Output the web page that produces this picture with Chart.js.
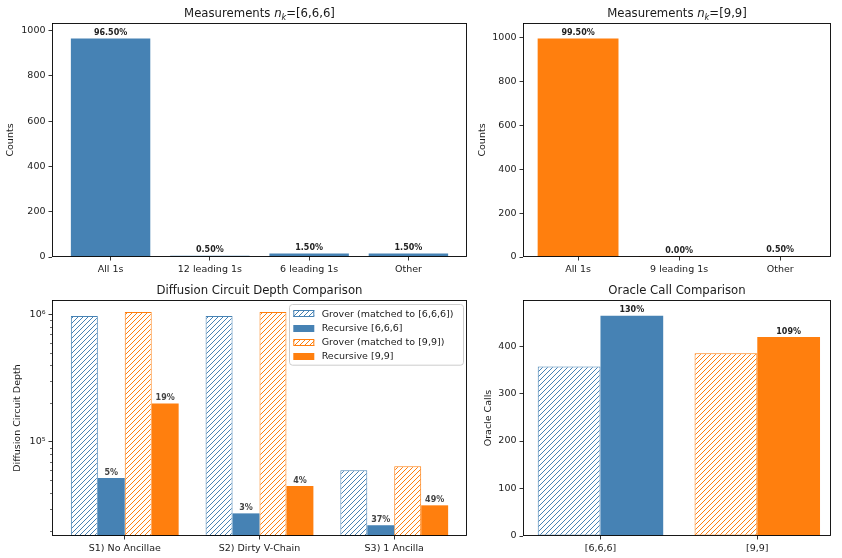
<!DOCTYPE html>
<html>
<head>
<meta charset="utf-8">
<script src="https://cdn.jsdelivr.net/npm/chart.js@4.4.0/dist/chart.umd.min.js"></script>
<style>
    body { margin: 0; background: #fff; width: 842px; height: 558px; position: relative; overflow: hidden; }
    .box { position: absolute; }
</style>
</head>
<body>
<div class="box" style="left:0;top:0;width:480px;height:280px"><canvas id="meas666"></canvas></div>
<div class="box" style="left:470px;top:0;width:372px;height:280px"><canvas id="meas99"></canvas></div>
<div class="box" style="left:0;top:280px;width:480px;height:278px"><canvas id="depth"></canvas></div>
<div class="box" style="left:470px;top:280px;width:372px;height:278px"><canvas id="oracle"></canvas></div>
<script>
// Data
const SHOTS = 1000;
const meas666Labels = ['All 1s', '12 leading 1s', '6 leading 1s', 'Other'];
const meas666Counts = [965, 5, 15, 15];
const meas99Labels = ['All 1s', '9 leading 1s', 'Other'];
const meas99Counts = [995, 0, 5];
const countTicks = [0, 200, 400, 600, 800, 1000];

const depthLabels = ['S1) No Ancillae', 'S2) Dirty V-Chain', 'S3) 1 Ancilla'];
const grover666Depth = [970000, 970000, 60000];
const recursive666Depth = [52000, 27500, 22200];
const grover99Depth = [1042000, 1042000, 64400];
const recursive99Depth = [200000, 45000, 31800];
const depthTicks = [100000, 1000000];
const depthTickLabels = ['10⁵', '10⁶'];
const depthMinorTicks = [20000, 30000, 40000, 50000, 60000, 70000, 80000, 90000,
    200000, 300000, 400000, 500000, 600000, 700000, 800000, 900000];

const oracleLabels = ['[6,6,6]', '[9,9]'];
const groverOracle = [357, 385];
const recursiveOracle = [464, 419];
const oracleTicks = [0, 100, 200, 300, 400];

const legendLabels = ['Grover (matched to [6,6,6])', 'Recursive [6,6,6]', 'Grover (matched to [9,9])', 'Recursive [9,9]'];

// Style
const BLUE = '#4682b4';
const ORANGE = '#ff7f0e';
const FONT = "'DejaVu Sans', sans-serif";
const INK = '#1a1a1a';

Chart.defaults.font.family = FONT;
Chart.defaults.font.size = 9.5;
Chart.defaults.color = INK;
Chart.defaults.animation = false;
Chart.defaults.plugins.legend.display = false;
Chart.defaults.plugins.tooltip.enabled = false;

function hatch(color) {
    const c = document.createElement('canvas');
    c.width = 5; c.height = 5;
    const g = c.getContext('2d');
    g.fillStyle = '#fff';
    g.fillRect(0, 0, 5, 5);
    g.strokeStyle = color;
    g.lineWidth = 1;
    g.beginPath();
    g.moveTo(0, 5); g.lineTo(5, 0);
    g.moveTo(-1, 1); g.lineTo(1, -1);
    g.moveTo(4, 6); g.lineTo(6, 4);
    g.stroke();
    return g.createPattern(c, 'repeat');
}

const tickGrid = { drawOnChartArea: false, drawTicks: true, offset: false, tickLength: 3.5, tickColor: '#000', tickWidth: 0.8 };

function xScale(labels, min, max, height) {
    return {
        type: 'linear', min, max, offset: false,
        afterBuildTicks: s => { s.ticks = labels.map((_, i) => ({ value: i })); },
        afterFit: s => { s.height = height; },
        ticks: { callback: v => labels[v], padding: 3, maxRotation: 0, autoSkip: false, color: INK, font: { size: 9.5 } },
        grid: tickGrid,
        border: { display: false }
    };
}

function yScale(title, titlePad, width, extra) {
    return Object.assign({
        afterFit: s => { s.width = width; },
        title: { display: true, text: title, padding: { top: titlePad, bottom: 0 }, color: INK, font: { size: 9.5 } },
        ticks: { padding: 3, color: INK, font: { size: 9.5 }, callback: v => String(v) },
        grid: tickGrid,
        border: { display: false }
    }, extra);
}

function drawTitle(chart, parts) {
    const ctx = chart.ctx;
    const a = chart.chartArea;
    const size = 11.7;
    const fontOf = p => `${p.italic ? 'italic ' : ''}${p.sub ? size * 0.7 : size}px ${FONT}`;
    let total = 0;
    parts.forEach(p => { ctx.font = fontOf(p); total += ctx.measureText(p.t).width; });
    let x = (a.left + a.right) / 2 - total / 2;
    const base = a.top - 6;
    ctx.save();
    ctx.fillStyle = INK;
    ctx.textBaseline = 'alphabetic';
    ctx.textAlign = 'left';
    parts.forEach(p => {
        ctx.font = fontOf(p);
        ctx.fillText(p.t, x, base + (p.sub ? 2.5 : 0));
        x += ctx.measureText(p.t).width;
    });
    ctx.restore();
}

function drawFrame(chart) {
    const ctx = chart.ctx;
    const a = chart.chartArea;
    ctx.save();
    ctx.strokeStyle = '#000';
    ctx.lineWidth = 0.9;
    const l = Math.round(a.left) + 0.5, t = Math.round(a.top) + 0.5;
    const r = Math.round(a.right) - 0.5, b = Math.round(a.bottom) - 0.5;
    ctx.strokeRect(l, t, r - l, b - t);
    ctx.restore();
}

function drawBarLabels(chart, dsIndex, texts, color) {
    const ctx = chart.ctx;
    const meta = chart.getDatasetMeta(dsIndex);
    ctx.save();
    ctx.font = `bold 8px ${FONT}`;
    ctx.fillStyle = color;
    ctx.textAlign = 'center';
    ctx.textBaseline = 'alphabetic';
    meta.data.forEach((bar, i) => {
        ctx.fillText(texts[i], bar.x, bar.y - 3.5);
    });
    ctx.restore();
}

function titlePlugin(parts, extra) {
    return {
        id: 'deco',
        afterDatasetsDraw(chart) {
            drawFrame(chart);
            drawTitle(chart, parts);
            if (extra) extra(chart);
        }
    };
}

const pct2 = counts => counts.map(v => (v / SHOTS * 100).toFixed(2) + '%');
const ratio = (num, den) => num.map((v, i) => Math.round(v / den[i] * 100) + '%');
const pts = vals => vals.map((v, i) => ({ x: i, y: v }));

// Measurements [6,6,6]
new Chart(document.getElementById('meas666'), {
    type: 'bar',
    data: {
        datasets: [{ data: pts(meas666Counts), backgroundColor: BLUE, categoryPercentage: 0.8, barPercentage: 1 }]
    },
    options: {
        responsive: true, maintainAspectRatio: false,
        layout: { padding: { top: 23, right: 13, left: 0, bottom: 0 } },
        scales: {
            x: xScale(meas666Labels, -0.59, 3.59, 23),
            y: yScale('Counts', 5.3, 52, {
                min: 0, max: 1033,
                afterBuildTicks: s => { s.ticks = countTicks.map(v => ({ value: v })); }
            })
        }
    },
    plugins: [titlePlugin(
        [{ t: 'Measurements ' }, { t: 'n', italic: true }, { t: 'k', italic: true, sub: true }, { t: '=[6,6,6]' }],
        chart => drawBarLabels(chart, 0, pct2(meas666Counts), '#222')
    )]
});

// Measurements [9,9]
new Chart(document.getElementById('meas99'), {
    type: 'bar',
    data: {
        datasets: [{ data: pts(meas99Counts), backgroundColor: ORANGE, categoryPercentage: 0.8, barPercentage: 1, minBarLength: 1 }]
    },
    options: {
        responsive: true, maintainAspectRatio: false,
        layout: { padding: { top: 23, right: 11, left: 0, bottom: 0 } },
        scales: {
            x: xScale(meas99Labels, -0.545, 2.503, 23),
            y: yScale('Counts', 7, 53, {
                min: 0, max: 1065,
                afterBuildTicks: s => { s.ticks = countTicks.map(v => ({ value: v })); }
            })
        }
    },
    plugins: [titlePlugin(
        [{ t: 'Measurements ' }, { t: 'n', italic: true }, { t: 'k', italic: true, sub: true }, { t: '=[9,9]' }],
        chart => drawBarLabels(chart, 0, pct2(meas99Counts), '#222')
    )]
});

// Diffusion circuit depth
const hatchBlue = hatch(BLUE);
const hatchOrange = hatch(ORANGE);
const depthSets = [
    { data: pts(grover666Depth), backgroundColor: hatchBlue, borderColor: BLUE, borderWidth: 1, borderSkipped: false },
    { data: pts(recursive666Depth), backgroundColor: BLUE },
    { data: pts(grover99Depth), backgroundColor: hatchOrange, borderColor: ORANGE, borderWidth: 1, borderSkipped: false },
    { data: pts(recursive99Depth), backgroundColor: ORANGE }
].map(d => Object.assign({ categoryPercentage: 0.8, barPercentage: 1 }, d));

function drawDepthLegend(chart) {
    const ctx = chart.ctx;
    const a = chart.chartArea;
    const x0 = 289, y0 = a.top + 4.3, w = a.right - 4 - x0, h = 60.7;
    ctx.save();
    ctx.fillStyle = 'rgba(255,255,255,0.8)';
    ctx.strokeStyle = '#cccccc';
    ctx.lineWidth = 1;
    ctx.beginPath();
    ctx.roundRect(x0 + 0.5, Math.round(y0) + 0.5, w, h, 3);
    ctx.fill();
    ctx.stroke();
    ctx.font = `9.5px ${FONT}`;
    ctx.textBaseline = 'middle';
    ctx.textAlign = 'left';
    depthSets.forEach((d, i) => {
        const cy = y0 + 9.5 + i * 14.2;
        const px = x0 + 4.3, py = Math.round(cy - 3.5);
        ctx.fillStyle = d.backgroundColor;
        ctx.fillRect(px, py, 21, 7);
        if (d.borderColor) {
            ctx.strokeStyle = d.borderColor;
            ctx.strokeRect(px + 0.5, py + 0.5, 20, 6);
        }
        ctx.fillStyle = INK;
        ctx.fillText(legendLabels[i], x0 + 32.7, cy + 0.5);
    });
    ctx.restore();
}

function drawMinorTicks(chart) {
    const ctx = chart.ctx;
    const s = chart.scales.y;
    const a = chart.chartArea;
    ctx.save();
    ctx.strokeStyle = '#000';
    ctx.lineWidth = 0.6;
    ctx.beginPath();
    depthMinorTicks.forEach(v => {
        const y = Math.round(s.getPixelForValue(v)) + 0.5;
        if (y < a.top || y > a.bottom) return;
        ctx.moveTo(a.left - 2, y);
        ctx.lineTo(a.left, y);
    });
    ctx.stroke();
    ctx.restore();
}

new Chart(document.getElementById('depth'), {
    type: 'bar',
    data: { datasets: depthSets },
    options: {
        responsive: true, maintainAspectRatio: false,
        layout: { padding: { top: 20, right: 13, left: 0, bottom: 0 } },
        scales: {
            x: xScale(depthLabels, -0.54, 2.54, 22),
            y: yScale('Diffusion Circuit Depth', 12, 52, {
                type: 'logarithmic', min: 18280, max: 1295000,
                afterBuildTicks: s => { s.ticks = depthTicks.map(v => ({ value: v })); },
                ticks: { padding: 3, color: INK, font: { size: 9.5 }, callback: v => depthTickLabels[depthTicks.indexOf(v)] }
            })
        }
    },
    plugins: [titlePlugin(
        [{ t: 'Diffusion Circuit Depth Comparison' }],
        chart => {
            drawMinorTicks(chart);
            drawBarLabels(chart, 1, ratio(recursive666Depth, grover666Depth), '#444');
            drawBarLabels(chart, 3, ratio(recursive99Depth, grover99Depth), '#444');
            drawDepthLegend(chart);
        }
    )]
});

// Oracle calls
new Chart(document.getElementById('oracle'), {
    type: 'bar',
    data: {
        datasets: [
            { data: pts(groverOracle), backgroundColor: [hatchBlue, hatchOrange], borderColor: [BLUE, ORANGE], borderWidth: 1, borderSkipped: false },
            { data: pts(recursiveOracle), backgroundColor: [BLUE, ORANGE] }
        ].map(d => Object.assign({ categoryPercentage: 0.8, barPercentage: 1 }, d))
    },
    options: {
        responsive: true, maintainAspectRatio: false,
        layout: { padding: { top: 20, right: 11, left: 0, bottom: 0 } },
        scales: {
            x: xScale(oracleLabels, -0.494, 1.47, 22),
            y: yScale('Oracle Calls', 13.3, 53, {
                min: 0, max: 497,
                afterBuildTicks: s => { s.ticks = oracleTicks.map(v => ({ value: v })); }
            })
        }
    },
    plugins: [titlePlugin(
        [{ t: 'Oracle Call Comparison' }],
        chart => drawBarLabels(chart, 1, ratio(recursiveOracle, groverOracle), '#222')
    )]
});
</script>
</body>
</html>
